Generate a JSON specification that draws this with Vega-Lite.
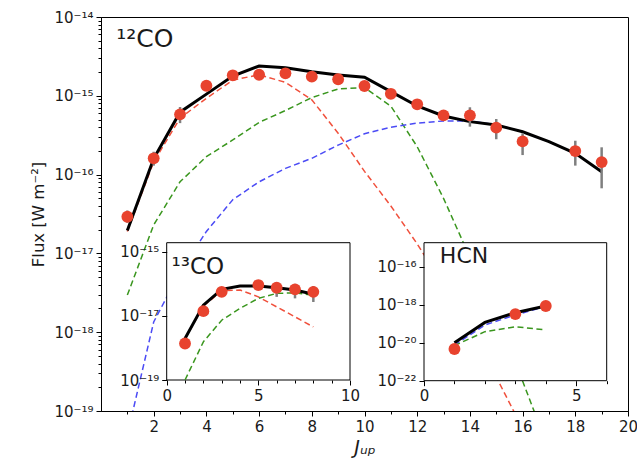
{
  "$schema": "https://vega.github.io/schema/vega-lite/v6.json",
  "width": 527,
  "height": 394,
  "autosize": {"type": "none"},
  "padding": {"left": 101, "top": 17, "right": 9, "bottom": 50},
  "config": {
    "view": {"stroke": "#000", "strokeWidth": 1},
    "font": "DejaVu Sans",
    "axis": {
      "grid": false, "domainColor": "#000", "tickColor": "#000", "tickWidth": 1, "domainWidth": 1,
      "labelColor": "#1a1a1a", "titleColor": "#1a1a1a", "labelFont": "DejaVu Sans", "titleFont": "DejaVu Sans",
      "labelFontSize": 15, "titleFontSize": 16.5, "titleFontWeight": "normal",
      "labelOverlap": false, "labelBound": false, "labelFlush": false, "labelPadding": 3
    }
  },
  "datasets": {
    "model": [
      {"mol": "12CO", "comp": "total", "J": 1, "flux": 1.95e-17}, {"mol": "12CO", "comp": "total", "J": 2, "flux": 1.6e-16}, {"mol": "12CO", "comp": "total", "J": 3, "flux": 6.2e-16}, {"mol": "12CO", "comp": "total", "J": 4, "flux": 1.05e-15}, {"mol": "12CO", "comp": "total", "J": 5, "flux": 1.78e-15}, {"mol": "12CO", "comp": "total", "J": 6, "flux": 2.39e-15}, {"mol": "12CO", "comp": "total", "J": 7, "flux": 2.27e-15}, {"mol": "12CO", "comp": "total", "J": 8, "flux": 2.02e-15}, {"mol": "12CO", "comp": "total", "J": 9, "flux": 1.84e-15}, {"mol": "12CO", "comp": "total", "J": 10, "flux": 1.72e-15}, {"mol": "12CO", "comp": "total", "J": 11, "flux": 1.13e-15}, {"mol": "12CO", "comp": "total", "J": 12, "flux": 7.43e-16}, {"mol": "12CO", "comp": "total", "J": 13, "flux": 5.55e-16}, {"mol": "12CO", "comp": "total", "J": 14, "flux": 4.7e-16}, {"mol": "12CO", "comp": "total", "J": 15, "flux": 4.26e-16}, {"mol": "12CO", "comp": "total", "J": 16, "flux": 3.5e-16}, {"mol": "12CO", "comp": "total", "J": 17, "flux": 2.62e-16}, {"mol": "12CO", "comp": "total", "J": 18, "flux": 1.86e-16}, {"mol": "12CO", "comp": "total", "J": 19, "flux": 1.09e-16},
      {"mol": "12CO", "comp": "cold", "J": 1, "flux": 1.9e-17}, {"mol": "12CO", "comp": "cold", "J": 2, "flux": 1.45e-16}, {"mol": "12CO", "comp": "cold", "J": 3, "flux": 5.2e-16}, {"mol": "12CO", "comp": "cold", "J": 4, "flux": 9.3e-16}, {"mol": "12CO", "comp": "cold", "J": 5, "flux": 1.58e-15}, {"mol": "12CO", "comp": "cold", "J": 6, "flux": 1.85e-15}, {"mol": "12CO", "comp": "cold", "J": 7, "flux": 1.48e-15}, {"mol": "12CO", "comp": "cold", "J": 8, "flux": 8.9e-16}, {"mol": "12CO", "comp": "cold", "J": 9, "flux": 3.35e-16}, {"mol": "12CO", "comp": "cold", "J": 10, "flux": 1.1e-16}, {"mol": "12CO", "comp": "cold", "J": 11, "flux": 4.0e-17}, {"mol": "12CO", "comp": "cold", "J": 12, "flux": 1.32e-17}, {"mol": "12CO", "comp": "cold", "J": 13, "flux": 3.9e-18}, {"mol": "12CO", "comp": "cold", "J": 14, "flux": 1.07e-18}, {"mol": "12CO", "comp": "cold", "J": 15, "flux": 2.7e-19}, {"mol": "12CO", "comp": "cold", "J": 16, "flux": 6e-20}, {"mol": "12CO", "comp": "cold", "J": 17, "flux": 1.3e-20}, {"mol": "12CO", "comp": "cold", "J": 18, "flux": 2.6e-21}, {"mol": "12CO", "comp": "cold", "J": 19, "flux": 5e-22},
      {"mol": "12CO", "comp": "warm", "J": 1, "flux": 2.96e-18}, {"mol": "12CO", "comp": "warm", "J": 2, "flux": 2.3e-17}, {"mol": "12CO", "comp": "warm", "J": 3, "flux": 8.1e-17}, {"mol": "12CO", "comp": "warm", "J": 4, "flux": 1.69e-16}, {"mol": "12CO", "comp": "warm", "J": 5, "flux": 2.75e-16}, {"mol": "12CO", "comp": "warm", "J": 6, "flux": 4.6e-16}, {"mol": "12CO", "comp": "warm", "J": 7, "flux": 6.5e-16}, {"mol": "12CO", "comp": "warm", "J": 8, "flux": 9.5e-16}, {"mol": "12CO", "comp": "warm", "J": 9, "flux": 1.22e-15}, {"mol": "12CO", "comp": "warm", "J": 10, "flux": 1.27e-15}, {"mol": "12CO", "comp": "warm", "J": 11, "flux": 7.4e-16}, {"mol": "12CO", "comp": "warm", "J": 12, "flux": 2.26e-16}, {"mol": "12CO", "comp": "warm", "J": 13, "flux": 5.0e-17}, {"mol": "12CO", "comp": "warm", "J": 14, "flux": 8.9e-18}, {"mol": "12CO", "comp": "warm", "J": 15, "flux": 1.4e-18}, {"mol": "12CO", "comp": "warm", "J": 16, "flux": 2.4e-19}, {"mol": "12CO", "comp": "warm", "J": 17, "flux": 3.2e-20}, {"mol": "12CO", "comp": "warm", "J": 18, "flux": 4e-21}, {"mol": "12CO", "comp": "warm", "J": 19, "flux": 4e-22},
      {"mol": "12CO", "comp": "hot", "J": 1, "flux": 5e-20}, {"mol": "12CO", "comp": "hot", "J": 2, "flux": 1.35e-18}, {"mol": "12CO", "comp": "hot", "J": 3, "flux": 5.8e-18}, {"mol": "12CO", "comp": "hot", "J": 4, "flux": 1.9e-17}, {"mol": "12CO", "comp": "hot", "J": 5, "flux": 4.8e-17}, {"mol": "12CO", "comp": "hot", "J": 6, "flux": 8.1e-17}, {"mol": "12CO", "comp": "hot", "J": 7, "flux": 1.2e-16}, {"mol": "12CO", "comp": "hot", "J": 8, "flux": 1.61e-16}, {"mol": "12CO", "comp": "hot", "J": 9, "flux": 2.37e-16}, {"mol": "12CO", "comp": "hot", "J": 10, "flux": 3.3e-16}, {"mol": "12CO", "comp": "hot", "J": 11, "flux": 4.0e-16}, {"mol": "12CO", "comp": "hot", "J": 12, "flux": 4.5e-16}, {"mol": "12CO", "comp": "hot", "J": 13, "flux": 4.8e-16}, {"mol": "12CO", "comp": "hot", "J": 14, "flux": 4.8e-16}, {"mol": "12CO", "comp": "hot", "J": 15, "flux": 4.3e-16}, {"mol": "12CO", "comp": "hot", "J": 16, "flux": 3.5e-16}, {"mol": "12CO", "comp": "hot", "J": 17, "flux": 2.6e-16}, {"mol": "12CO", "comp": "hot", "J": 18, "flux": 1.85e-16}, {"mol": "12CO", "comp": "hot", "J": 19, "flux": 1.08e-16},
      {"mol": "13CO", "comp": "total", "J": 1, "flux": 1.97e-18}, {"mol": "13CO", "comp": "total", "J": 2, "flux": 2.16e-17}, {"mol": "13CO", "comp": "total", "J": 3, "flux": 6.7e-17}, {"mol": "13CO", "comp": "total", "J": 4, "flux": 8.5e-17}, {"mol": "13CO", "comp": "total", "J": 5, "flux": 8.5e-17}, {"mol": "13CO", "comp": "total", "J": 6, "flux": 7.5e-17}, {"mol": "13CO", "comp": "total", "J": 7, "flux": 6.4e-17}, {"mol": "13CO", "comp": "total", "J": 8, "flux": 4.7e-17},
      {"mol": "13CO", "comp": "cold", "J": 1, "flux": 1.9e-18}, {"mol": "13CO", "comp": "cold", "J": 2, "flux": 2.0e-17}, {"mol": "13CO", "comp": "cold", "J": 3, "flux": 6.0e-17}, {"mol": "13CO", "comp": "cold", "J": 4, "flux": 6.4e-17}, {"mol": "13CO", "comp": "cold", "J": 5, "flux": 3.9e-17}, {"mol": "13CO", "comp": "cold", "J": 6, "flux": 1.9e-17}, {"mol": "13CO", "comp": "cold", "J": 7, "flux": 9.3e-18}, {"mol": "13CO", "comp": "cold", "J": 8, "flux": 4.5e-18},
      {"mol": "13CO", "comp": "warm", "J": 1, "flux": 1e-19}, {"mol": "13CO", "comp": "warm", "J": 2, "flux": 1.55e-18}, {"mol": "13CO", "comp": "warm", "J": 3, "flux": 7.3e-18}, {"mol": "13CO", "comp": "warm", "J": 4, "flux": 1.7e-17}, {"mol": "13CO", "comp": "warm", "J": 5, "flux": 3.5e-17}, {"mol": "13CO", "comp": "warm", "J": 6, "flux": 5.0e-17}, {"mol": "13CO", "comp": "warm", "J": 7, "flux": 5.2e-17}, {"mol": "13CO", "comp": "warm", "J": 8, "flux": 4.4e-17},
      {"mol": "HCN", "comp": "total", "J": 1, "flux": 1e-20}, {"mol": "HCN", "comp": "total", "J": 2, "flux": 1.17e-19}, {"mol": "HCN", "comp": "total", "J": 3, "flux": 3.8e-19}, {"mol": "HCN", "comp": "total", "J": 4, "flux": 8.5e-19},
      {"mol": "HCN", "comp": "hot", "J": 1, "flux": 7.6e-21}, {"mol": "HCN", "comp": "hot", "J": 2, "flux": 8.5e-20}, {"mol": "HCN", "comp": "hot", "J": 3, "flux": 2.9e-19}, {"mol": "HCN", "comp": "hot", "J": 4, "flux": 8.0e-19},
      {"mol": "HCN", "comp": "warm", "J": 1, "flux": 7e-21}, {"mol": "HCN", "comp": "warm", "J": 2, "flux": 3.8e-20}, {"mol": "HCN", "comp": "warm", "J": 3, "flux": 6.9e-20}, {"mol": "HCN", "comp": "warm", "J": 4, "flux": 4.7e-20}
    ],
    "obs": [
      {"mol": "12CO", "J": 1, "flux": 2.92e-17, "lo": 2.45e-17, "hi": 3.5e-17}, {"mol": "12CO", "J": 2, "flux": 1.61e-16, "lo": 1.3e-16, "hi": 1.95e-16}, {"mol": "12CO", "J": 3, "flux": 5.82e-16, "lo": 4.5e-16, "hi": 7.2e-16}, {"mol": "12CO", "J": 4, "flux": 1.34e-15, "lo": 1.2e-15, "hi": 1.5e-15}, {"mol": "12CO", "J": 5, "flux": 1.82e-15, "lo": 1.7e-15, "hi": 1.95e-15}, {"mol": "12CO", "J": 6, "flux": 1.85e-15, "lo": 1.75e-15, "hi": 1.95e-15}, {"mol": "12CO", "J": 7, "flux": 1.93e-15, "lo": 1.83e-15, "hi": 2.03e-15}, {"mol": "12CO", "J": 8, "flux": 1.75e-15, "lo": 1.65e-15, "hi": 1.85e-15}, {"mol": "12CO", "J": 9, "flux": 1.62e-15, "lo": 1.52e-15, "hi": 1.72e-15}, {"mol": "12CO", "J": 10, "flux": 1.33e-15, "lo": 1.25e-15, "hi": 1.42e-15}, {"mol": "12CO", "J": 11, "flux": 1.06e-15, "lo": 9.8e-16, "hi": 1.14e-15}, {"mol": "12CO", "J": 12, "flux": 7.8e-16, "lo": 7.2e-16, "hi": 8.4e-16}, {"mol": "12CO", "J": 13, "flux": 5.65e-16, "lo": 5.1e-16, "hi": 6.2e-16}, {"mol": "12CO", "J": 14, "flux": 5.65e-16, "lo": 4.06e-16, "hi": 7.15e-16}, {"mol": "12CO", "J": 15, "flux": 3.94e-16, "lo": 2.81e-16, "hi": 5.08e-16}, {"mol": "12CO", "J": 16, "flux": 2.64e-16, "lo": 1.77e-16, "hi": 3.34e-16}, {"mol": "12CO", "J": 18, "flux": 1.99e-16, "lo": 1.3e-16, "hi": 2.69e-16}, {"mol": "12CO", "J": 19, "flux": 1.44e-16, "lo": 6.7e-17, "hi": 2.22e-16},
      {"mol": "13CO", "J": 1, "flux": 1.37e-18, "lo": 1.25e-18, "hi": 1.5e-18}, {"mol": "13CO", "J": 2, "flux": 1.4e-17, "lo": 1.28e-17, "hi": 1.52e-17}, {"mol": "13CO", "J": 3, "flux": 5.6e-17, "lo": 5.1e-17, "hi": 6.1e-17}, {"mol": "13CO", "J": 5, "flux": 9.1e-17, "lo": 8.2e-17, "hi": 1.0e-16}, {"mol": "13CO", "J": 6, "flux": 7.5e-17, "lo": 3.9e-17, "hi": 1.11e-16}, {"mol": "13CO", "J": 7, "flux": 6.7e-17, "lo": 3.5e-17, "hi": 9.9e-17}, {"mol": "13CO", "J": 8, "flux": 5.6e-17, "lo": 2.7e-17, "hi": 8.5e-17},
      {"mol": "HCN", "J": 1, "flux": 4.66e-21, "lo": 4.3e-21, "hi": 5.0e-21}, {"mol": "HCN", "J": 3, "flux": 3.2e-19, "lo": 2.95e-19, "hi": 3.45e-19}, {"mol": "HCN", "J": 4, "flux": 8.5e-19, "lo": 7.9e-19, "hi": 9.1e-19}
    ]
  },
  "layer": [
    {
      "layer": [
        {
          "data": {"name": "model"},
          "transform": [{"filter": "datum.mol === '12CO' && datum.comp !== 'total'"}],
          "mark": {"type": "line", "clip": true, "strokeWidth": 1.5, "strokeDash": [6, 3.5]},
          "encoding": {
            "x": {"field": "J", "type": "quantitative", "scale": {"domain": [0, 20], "nice": false, "zero": false},
              "axis": {"orient": "bottom", "values": [2,4,6,8,10,12,14,16,18,20], "format": "d", "tickSize": 5,
                "title": "Jᵤₚ", "titleFontStyle": "italic", "titleFontSize": 19, "titlePadding": 4}},
            "y": {"field": "flux", "type": "quantitative", "scale": {"type": "log", "domain": [1e-19, 1e-14], "nice": false},
              "axis": {"orient": "left", "values": [1e-19, 1e-18, 1e-17, 1e-16, 1e-15, 1e-14], "tickSize": 5,
                "labelExpr": "datum.value === 1e-14 ? '10⁻¹⁴' : datum.value === 1e-15 ? '10⁻¹⁵' : datum.value === 1e-16 ? '10⁻¹⁶' : datum.value === 1e-17 ? '10⁻¹⁷' : datum.value === 1e-18 ? '10⁻¹⁸' : datum.value === 1e-19 ? '10⁻¹⁹' : ''",
                "title": "Flux [W m⁻²]", "titlePadding": 7}},
            "color": {"field": "comp", "type": "nominal", "scale": {"domain": ["cold", "warm", "hot"], "range": ["#f0503c", "#3a961e", "#4b4bf5"]}, "legend": null}
          }
        },
        {
          "data": {"name": "model"},
          "transform": [{"filter": "datum.mol === '12CO' && datum.comp === 'total'"}],
          "mark": {"type": "line", "clip": true, "strokeWidth": 3, "color": "#000"},
          "encoding": {
            "x": {"field": "J", "type": "quantitative",
              "axis": {"orient": "bottom", "values": [1,3,5,7,9,11,13,15,17,19], "labels": false, "tickSize": 3, "domain": false, "title": null}},
            "y": {"field": "flux", "type": "quantitative",
              "axis": {"orient": "left", "labels": false, "tickSize": 3, "domain": false, "title": null,
                "values": [2e-19,3e-19,4e-19,5e-19,6e-19,7e-19,8e-19,9e-19,2e-18,3e-18,4e-18,5e-18,6e-18,7e-18,8e-18,9e-18,2e-17,3e-17,4e-17,5e-17,6e-17,7e-17,8e-17,9e-17,2e-16,3e-16,4e-16,5e-16,6e-16,7e-16,8e-16,9e-16,2e-15,3e-15,4e-15,5e-15,6e-15,7e-15,8e-15,9e-15]}}
          }
        },
        {
          "data": {"name": "obs"},
          "transform": [{"filter": "datum.mol === '12CO'"}],
          "mark": {"type": "rule", "strokeWidth": 2.5, "color": "#7f7f7f"},
          "encoding": {"x": {"field": "J", "type": "quantitative", "axis": null}, "y": {"field": "lo", "type": "quantitative", "axis": null}, "y2": {"field": "hi"}}
        },
        {
          "data": {"name": "obs"},
          "transform": [{"filter": "datum.mol === '12CO'"}],
          "mark": {"type": "circle", "size": 140, "color": "#e8432e", "opacity": 1},
          "encoding": {"x": {"field": "J", "type": "quantitative", "axis": null}, "y": {"field": "flux", "type": "quantitative", "axis": null}}
        },
        {
          "data": {"values": [{"label": "¹²CO"}]},
          "mark": {"type": "text", "align": "left", "baseline": "alphabetic", "fontSize": 25, "font": "DejaVu Sans", "color": "#1a1a1a"},
          "encoding": {"x": {"datum": 0.58, "type": "quantitative", "axis": null}, "y": {"datum": 4.2e-15, "type": "quantitative", "axis": null}, "text": {"field": "label"}}
        }
      ],
      "resolve": {"axis": {"x": "independent", "y": "independent"}}
    },
    {
      "layer": [
        {
          "data": {"values": [{}]},
          "mark": {"type": "rect", "fill": "#fff", "stroke": "#000", "strokeWidth": 1},
          "encoding": {
            "x": {"datum": 0, "type": "quantitative", "scale": {"domain": [0, 10], "range": [65.7, 249], "nice": false, "zero": false},
              "axis": {"orient": "bottom", "offset": -31, "zindex": 1, "domain": false, "title": null,
                "values": [0,1,2,3,4,5,6,7,8,9,10],
                "labelExpr": "datum.value % 5 === 0 ? format(datum.value, 'd') : ''",
                "tickSize": {"condition": {"test": "datum.value % 5 === 0", "value": 5}, "value": 3}}},
            "x2": {"datum": 10},
            "y": {"datum": 1e-19, "type": "quantitative", "scale": {"type": "log", "domain": [1e-19, 1.9e-15], "range": [363, 225.7], "nice": false},
              "axis": {"orient": "left", "offset": -65.7, "zindex": 1, "domain": false, "title": null, "tickSize": 5,
                "values": [1e-19, 1e-17, 1e-15],
                "labelExpr": "datum.value === 1e-15 ? '10⁻¹⁵' : datum.value === 1e-17 ? '10⁻¹⁷' : datum.value === 1e-19 ? '10⁻¹⁹' : ''"}},
            "y2": {"datum": 1.9e-15}
          }
        },
        {
          "data": {"name": "model"},
          "transform": [{"filter": "datum.mol === '13CO' && datum.comp !== 'total'"}],
          "mark": {"type": "line", "strokeWidth": 1.5, "strokeDash": [6, 3.5]},
          "encoding": {"x": {"field": "J", "type": "quantitative"}, "y": {"field": "flux", "type": "quantitative"}, "color": {"field": "comp", "type": "nominal", "legend": null}}
        },
        {
          "data": {"name": "model"},
          "transform": [{"filter": "datum.mol === '13CO' && datum.comp === 'total'"}],
          "mark": {"type": "line", "strokeWidth": 3, "color": "#000"},
          "encoding": {"x": {"field": "J", "type": "quantitative"}, "y": {"field": "flux", "type": "quantitative"}}
        },
        {
          "data": {"name": "obs"},
          "transform": [{"filter": "datum.mol === '13CO'"}],
          "mark": {"type": "rule", "strokeWidth": 2.5, "color": "#7f7f7f"},
          "encoding": {"x": {"field": "J", "type": "quantitative"}, "y": {"field": "lo", "type": "quantitative"}, "y2": {"field": "hi"}}
        },
        {
          "data": {"name": "obs"},
          "transform": [{"filter": "datum.mol === '13CO'"}],
          "mark": {"type": "circle", "size": 140, "color": "#e8432e", "opacity": 1},
          "encoding": {"x": {"field": "J", "type": "quantitative"}, "y": {"field": "flux", "type": "quantitative"}}
        },
        {
          "data": {"values": [{"label": "¹³CO"}]},
          "mark": {"type": "text", "align": "left", "baseline": "alphabetic", "fontSize": 23, "font": "DejaVu Sans", "color": "#1a1a1a"},
          "encoding": {"x": {"datum": 0.26, "type": "quantitative"}, "y": {"datum": 2.0e-16, "type": "quantitative"}, "text": {"field": "label"}}
        }
      ]
    },
    {
      "layer": [
        {
          "data": {"values": [{}]},
          "mark": {"type": "rect", "fill": "#fff", "stroke": "#000", "strokeWidth": 1},
          "encoding": {
            "x": {"datum": 0, "type": "quantitative", "scale": {"domain": [0, 6], "range": [323, 505.7], "nice": false, "zero": false},
              "axis": {"orient": "bottom", "offset": -30.3, "zindex": 1, "domain": false, "title": null,
                "values": [0,1,2,3,4,5,6],
                "labelExpr": "datum.value % 5 === 0 ? format(datum.value, 'd') : ''",
                "tickSize": {"condition": {"test": "datum.value % 5 === 0", "value": 5}, "value": 3}}},
            "x2": {"datum": 6},
            "y": {"datum": 1e-22, "type": "quantitative", "scale": {"type": "log", "domain": [1e-22, 1.83e-15], "range": [363.7, 225.7], "nice": false},
              "axis": {"orient": "left", "offset": -323, "zindex": 1, "domain": false, "title": null, "tickSize": 5,
                "values": [1e-22, 1e-20, 1e-18, 1e-16],
                "labelExpr": "datum.value === 1e-16 ? '10⁻¹⁶' : datum.value === 1e-18 ? '10⁻¹⁸' : datum.value === 1e-20 ? '10⁻²⁰' : datum.value === 1e-22 ? '10⁻²²' : ''"}},
            "y2": {"datum": 1.83e-15}
          }
        },
        {
          "data": {"name": "model"},
          "transform": [{"filter": "datum.mol === 'HCN' && datum.comp !== 'total'"}],
          "mark": {"type": "line", "strokeWidth": 1.5, "strokeDash": [6, 3.5]},
          "encoding": {"x": {"field": "J", "type": "quantitative"}, "y": {"field": "flux", "type": "quantitative"}, "color": {"field": "comp", "type": "nominal", "legend": null}}
        },
        {
          "data": {"name": "model"},
          "transform": [{"filter": "datum.mol === 'HCN' && datum.comp === 'total'"}],
          "mark": {"type": "line", "strokeWidth": 3, "color": "#000"},
          "encoding": {"x": {"field": "J", "type": "quantitative"}, "y": {"field": "flux", "type": "quantitative"}}
        },
        {
          "data": {"name": "obs"},
          "transform": [{"filter": "datum.mol === 'HCN'"}],
          "mark": {"type": "circle", "size": 140, "color": "#e8432e", "opacity": 1},
          "encoding": {"x": {"field": "J", "type": "quantitative"}, "y": {"field": "flux", "type": "quantitative"}}
        },
        {
          "data": {"values": [{"label": "HCN"}]},
          "mark": {"type": "text", "align": "left", "baseline": "alphabetic", "fontSize": 22, "font": "DejaVu Sans", "color": "#1a1a1a"},
          "encoding": {"x": {"datum": 0.52, "type": "quantitative"}, "y": {"datum": 1.5e-16, "type": "quantitative"}, "text": {"field": "label"}}
        }
      ]
    }
  ],
  "resolve": {"scale": {"x": "independent", "y": "independent"}, "axis": {"x": "independent", "y": "independent"}}
}
